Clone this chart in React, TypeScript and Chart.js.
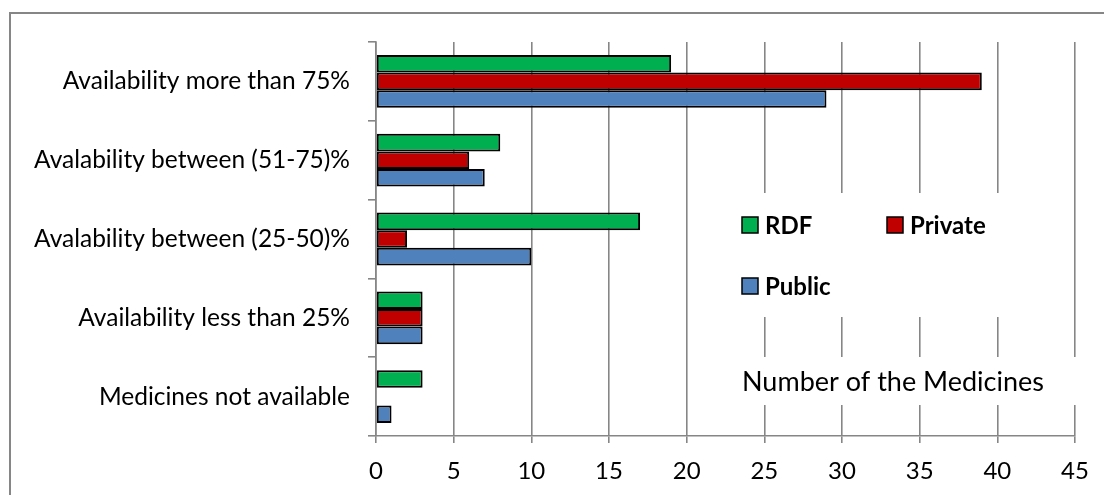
import React, { useEffect, useRef } from "react";
import { Chart, registerables } from "chart.js";

Chart.register(...registerables);

const categories = [
  "Availability more than 75%",
  "Avalability between (51-75)%",
  "Avalability between (25-50)%",
  "Availability less than 25%",
  "Medicines not available",
];
const rdfValues = [19, 8, 17, 3, 3];
const privateValues = [39, 6, 2, 3, 0];
const publicValues = [29, 7, 10, 3, 1];
const seriesNames = ["RDF", "Private", "Public"];
const seriesColors = ["#00B050", "#C00000", "#4F81BD"];
const xMin = 0;
const xMax = 45;
const xStep = 5;
const axisTitle = "Number of the Medicines";

const GRID = "#868686";
const FONT = "Lato, 'Open Sans', sans-serif";

const overlayPlugin = {
  id: "overlay",
  beforeDraw(chart: any) {
    const ctx = chart.ctx;
    ctx.save();
    ctx.strokeStyle = GRID;
    ctx.lineWidth = 2;
    ctx.beginPath();
    ctx.moveTo(10, 2000);
    ctx.lineTo(10, 13);
    ctx.lineTo(3000, 13);
    ctx.stroke();
    ctx.restore();
  },
  afterDraw(chart: any) {
    const ctx = chart.ctx;
    const a = chart.chartArea;
    ctx.save();
    // legend box
    const lx = a.left + 346;
    const ly = a.top + 151;
    ctx.fillStyle = "#ffffff";
    ctx.fillRect(lx, ly, 346, 124);
    const items = [
      { x: lx + 20, y: ly + 32 },
      { x: lx + 165, y: ly + 32 },
      { x: lx + 20, y: ly + 93 },
    ];
    ctx.font = `bold 24px ${FONT}`;
    ctx.textBaseline = "middle";
    ctx.textAlign = "left";
    items.forEach((it, i) => {
      ctx.fillStyle = seriesColors[i];
      ctx.fillRect(it.x, it.y - 8, 16, 16);
      ctx.strokeStyle = "#000";
      ctx.lineWidth = 1.5;
      ctx.strokeRect(it.x, it.y - 8, 16, 16);
      ctx.fillStyle = "#000";
      ctx.fillText(seriesNames[i], it.x + 23, it.y + 1);
    });
    // axis title box
    const tx = a.left + 344;
    const ty = a.top + 315;
    ctx.fillStyle = "#ffffff";
    ctx.fillRect(tx, ty, 372, 48);
    ctx.fillStyle = "#000";
    ctx.font = `27px ${FONT}`;
    ctx.textBaseline = "middle";
    ctx.textAlign = "left";
    ctx.fillText(axisTitle, tx + 22, ty + 25);
    ctx.restore();
  },
};

export default function App() {
  const ref = useRef<HTMLCanvasElement | null>(null);
  useEffect(() => {
    if (!ref.current) return;
    const chart = new Chart(ref.current, {
      type: "bar",
      data: {
        labels: categories,
        datasets: [
          { label: seriesNames[0], data: rdfValues, backgroundColor: seriesColors[0] },
          { label: seriesNames[1], data: privateValues, backgroundColor: seriesColors[1] },
          { label: seriesNames[2], data: publicValues, backgroundColor: seriesColors[2] },
        ].map((d) => ({
          ...d,
          borderColor: "#000000",
          borderWidth: 2,
          borderSkipped: false,
          categoryPercentage: 0.67,
          barPercentage: 1.0,
        })),
      },
      options: {
        indexAxis: "y",
        responsive: false,
        animation: false,
        devicePixelRatio: 1,
        layout: { padding: { left: 0, top: 42, right: 29, bottom: 0 } },
        plugins: {
          legend: { display: false },
          tooltip: { enabled: false },
          title: { display: false },
        },
        scales: {
          x: {
            type: "linear",
            min: xMin,
            max: xMax,
            ticks: {
              stepSize: xStep,
              color: "#000",
              font: { family: FONT, size: 24 },
              padding: 14,
            },
            grid: {
              color: GRID,
              lineWidth: 1.6,
              tickLength: 7,
              drawOnChartArea: true,
            },
            border: { display: true, color: GRID, width: 1.6 },
            afterFit: (s: any) => {
              s.height = 59;
            },
          },
          y: {
            type: "category",
            ticks: {
              color: "#000",
              font: { family: FONT, size: 24.5 },
              padding: 18,
            },
            grid: {
              color: GRID,
              lineWidth: 1.6,
              tickLength: 8,
              offset: true,
              drawOnChartArea: false,
            },
            border: { display: true, color: GRID, width: 1.6 },
            afterFit: (s: any) => {
              s.width = 376;
            },
          },
        },
      },
      plugins: [overlayPlugin],
    } as any);
    return () => chart.destroy();
  }, []);
  return (
    <div style={{ position: "absolute", left: 0, top: 0, width: 1104, height: 495, background: "#fff" }}>
      <canvas ref={ref} width={1104} height={495} style={{ width: 1104, height: 495, display: "block" }} />
    </div>
  );
}
